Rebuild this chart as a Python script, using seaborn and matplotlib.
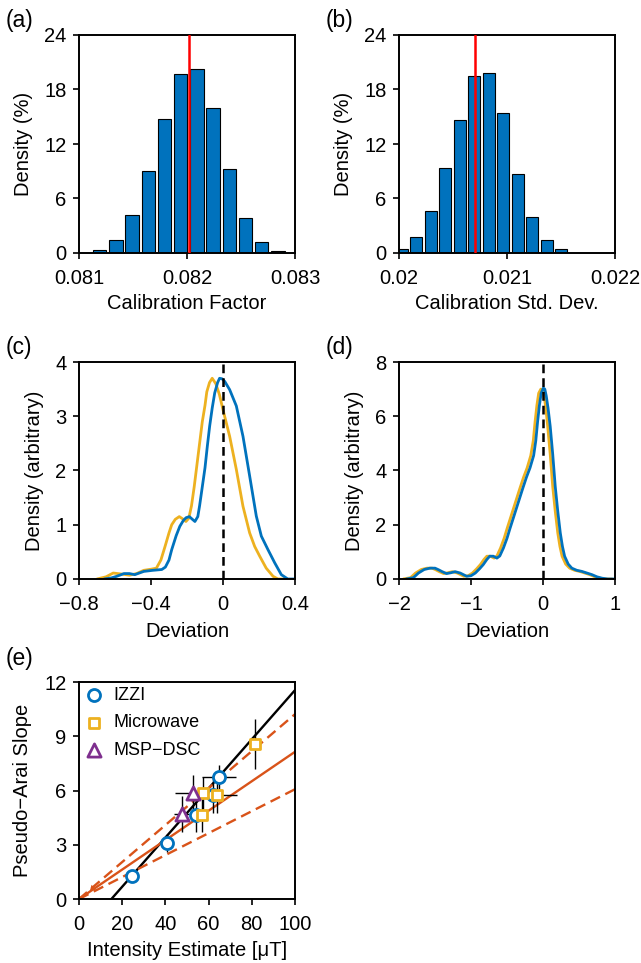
import numpy as np
import pandas as pd
import matplotlib
matplotlib.use("Agg")
import matplotlib.pyplot as plt
import seaborn as sns

# ---------------- data ----------------
# (a) calibration factor histogram (bin centres, % density)
a_centers = [0.081191, 0.081341, 0.081491, 0.081641, 0.081791, 0.081941,
             0.082091, 0.082241, 0.082391, 0.082541, 0.082691, 0.082841]
a_heights = [0.37, 1.4, 4.2, 9.05, 14.7, 19.7, 20.3, 16.0, 9.2, 3.8, 1.2, 0.25]
a_best = 0.08202

# (b) calibration std. dev. histogram
b_centers = [0.0200264, 0.0201605, 0.0202946, 0.0204287, 0.0205628, 0.0206969,
             0.0208310, 0.0209651, 0.0210992, 0.0212333, 0.0213674, 0.0215015]
b_heights = [0.45, 1.75, 4.6, 9.4, 14.65, 19.5, 19.8, 15.4, 8.75, 4.0, 1.4, 0.4]
b_best = 0.020704

# (c) deviation density curves
c_blue_x = [-0.66, -0.62, -0.59, -0.55, -0.52, -0.49, -0.44, -0.39, -0.34, -0.32, -0.30,
            -0.285, -0.26, -0.24, -0.22, -0.205, -0.187, -0.17, -0.156, -0.14, -0.13,
            -0.115, -0.10, -0.087, -0.074, -0.06, -0.046, -0.03, -0.019, -0.005, 0.01,
            0.037, 0.074, 0.111, 0.148, 0.185, 0.213, 0.25, 0.287, 0.324, 0.36, 0.40]
c_blue_y = [0.00, 0.02, 0.05, 0.10, 0.10, 0.08, 0.14, 0.16, 0.175, 0.22, 0.35,
            0.54, 0.80, 0.97, 1.08, 1.13, 1.15, 1.10, 1.06, 1.15, 1.35,
            1.70, 2.05, 2.45, 2.82, 3.15, 3.43, 3.62, 3.70, 3.69, 3.64,
            3.49, 3.19, 2.63, 1.90, 1.16, 0.79, 0.54, 0.30, 0.08, 0.00, 0.00]
c_orng_x = [-0.70, -0.65, -0.61, -0.56, -0.52, -0.48, -0.44, -0.40, -0.37, -0.345,
            -0.322, -0.30, -0.285, -0.265, -0.243, -0.225, -0.206, -0.19, -0.175, -0.16,
            -0.145, -0.13, -0.115, -0.10, -0.09, -0.075, -0.06, -0.04, -0.02, 0.00,
            0.037, 0.074, 0.111, 0.148, 0.176, 0.204, 0.24, 0.278, 0.305, 0.34]
c_orng_y = [0.00, 0.04, 0.11, 0.09, 0.07, 0.10, 0.16, 0.18, 0.20, 0.35,
            0.60, 0.85, 1.00, 1.10, 1.15, 1.11, 1.06, 1.12, 1.35, 1.70,
            2.10, 2.50, 2.90, 3.20, 3.45, 3.62, 3.70, 3.60, 3.40, 3.12,
            2.63, 2.02, 1.34, 0.85, 0.60, 0.42, 0.20, 0.05, 0.00, 0.00]

# (d) deviation density curves
d_blue_x = [-1.90, -1.80, -1.73, -1.65, -1.57, -1.50, -1.45, -1.40, -1.34, -1.28,
            -1.22, -1.15, -1.06, -1.00, -0.94, -0.88, -0.83, -0.78, -0.74, -0.69,
            -0.64, -0.60, -0.55, -0.50, -0.46, -0.40, -0.34, -0.28, -0.23, -0.18,
            -0.13, -0.10, -0.075, -0.05, -0.025, 0.005, 0.025, 0.045, 0.07, 0.10,
            0.135, 0.17, 0.205, 0.24, 0.27, 0.30, 0.35, 0.40, 0.47, 0.54,
            0.61, 0.68, 0.75, 0.82, 0.90, 1.00]
d_blue_y = [0.00, 0.05, 0.22, 0.35, 0.40, 0.40, 0.34, 0.27, 0.20, 0.23,
            0.27, 0.22, 0.10, 0.12, 0.22, 0.38, 0.53, 0.72, 0.84, 0.84,
            0.77, 0.85, 1.14, 1.50, 1.85, 2.35, 2.85, 3.35, 3.75, 4.10,
            4.55, 5.10, 5.80, 6.40, 6.85, 7.04, 7.00, 6.75, 6.30, 5.63,
            4.60, 3.41, 2.50, 1.70, 1.20, 0.84, 0.55, 0.40, 0.32, 0.28,
            0.22, 0.16, 0.08, 0.03, 0.00, 0.00]
d_orng_x = [-1.94, -1.84, -1.77, -1.69, -1.61, -1.54, -1.49, -1.44, -1.38, -1.32,
            -1.26, -1.19, -1.10, -1.04, -0.98, -0.92, -0.87, -0.82, -0.78, -0.73,
            -0.68, -0.64, -0.59, -0.54, -0.50, -0.44, -0.38, -0.32, -0.27, -0.22,
            -0.17, -0.135, -0.11, -0.085, -0.06, -0.03, -0.005, 0.015, 0.04, 0.065,
            0.10, 0.135, 0.17, 0.205, 0.235, 0.265, 0.315, 0.37, 0.44, 0.51,
            0.58, 0.65, 0.72, 0.79, 0.86, 0.96]
d_orng_y = [0.00, 0.05, 0.22, 0.35, 0.40, 0.40, 0.34, 0.27, 0.20, 0.23,
            0.27, 0.22, 0.10, 0.12, 0.22, 0.38, 0.53, 0.72, 0.84, 0.84,
            0.77, 0.85, 1.14, 1.50, 1.85, 2.35, 2.85, 3.35, 3.75, 4.10,
            4.55, 5.10, 5.80, 6.40, 6.85, 7.00, 6.98, 6.75, 6.30, 5.63,
            4.60, 3.41, 2.50, 1.70, 1.20, 0.84, 0.55, 0.40, 0.32, 0.28,
            0.22, 0.16, 0.08, 0.03, 0.00, 0.00]

# (e) pseudo-Arai slope vs intensity
izzi_x = [24.7, 40.9, 54.0, 62.2, 64.8]
izzi_y = [1.25, 3.10, 4.62, 5.75, 6.76]
izzi_xerr = [1.0, 1.0, 2.0, 3.0, 7.7]
izzi_yerr = [0.25, 0.5, 0.9, 1.0, 0.65]

micro_x = [56.8, 57.5, 63.8, 81.6]
micro_y = [4.63, 5.85, 5.75, 8.57]
micro_xerr = [2.0, 5.0, 9.5, 0.5]
micro_yerr = [0.9, 0.9, 1.0, 1.4]

msp_x = [47.5, 52.9]
msp_y = [4.69, 5.85]
msp_xerr = [3.5, 8.5]
msp_yerr = [1.0, 1.0]

black_fit_x = [15.0, 100.0]
black_fit_y = [0.0, 11.55]
fit_x = [0.0, 100.0]
fit_mid_y = [0.0, 8.14]
fit_hi_y = [0.0, 10.22]
fit_lo_y = [0.0, 6.07]
origin_mark_x = [5.8]
origin_mark_y = [0.6]

# ---------------- style ----------------
sns.set_theme(style="white")
plt.rcParams['font.family'] = ['Liberation Sans', 'DejaVu Sans']
plt.rcParams['axes.unicode_minus'] = True
plt.rcParams['text.color'] = 'black'
plt.rcParams['axes.labelcolor'] = 'black'
plt.rcParams['xtick.color'] = 'black'
plt.rcParams['ytick.color'] = 'black'

BLUE = '#0072BD'
YEL = '#EDB120'
PUR = '#7E2F8E'
ORA = '#D95319'
FS = 14.5
TFS = 14.5

fig = plt.figure(figsize=(6.41, 9.63), dpi=100)
W, H = 641.0, 963.0

def make_ax(l, t, r, b):
    return fig.add_axes([l / W, 1 - b / H, (r - l) / W, (b - t) / H])

def style(ax):
    for s in ax.spines.values():
        s.set_linewidth(1.4)
        s.set_color('black')
        s.set_visible(True)
    ax.tick_params(direction='out', length=4, width=1.2, labelsize=TFS,
                   colors='black', bottom=True, left=True)
    ax.tick_params(axis='x', pad=7.5)
    ax.tick_params(axis='y', pad=5)

ax_a = make_ax(79, 35, 295, 253)
ax_b = make_ax(399, 35, 615, 253)
ax_c = make_ax(79, 362, 295, 579)
ax_d = make_ax(399, 362, 615, 579)
ax_e = make_ax(79, 682, 295, 899)

# ---- (a), (b) ----
def hist(ax, centers, heights, best, xlim, xticks, xlabels, xlabel):
    c = np.asarray(centers, dtype=float)
    w = c[1] - c[0]
    edges = [float(v) for v in (c - w / 2)] + [float(c[-1] + w / 2)]
    df = pd.DataFrame({'x': c, 'h': heights})
    sns.histplot(data=df, x='x', weights='h', bins=edges, stat='count', shrink=0.83,
                 color=BLUE, edgecolor='black', linewidth=0.8, alpha=1.0, ax=ax)
    ax.axvline(best, color='#FF0000', lw=1.8, zorder=5)
    ax.set_xlim(*xlim)
    ax.set_ylim(0, 24)
    ax.set_yticks([0, 6, 12, 18, 24])
    ax.set_xticks(xticks)
    ax.set_xticklabels(xlabels)
    style(ax)
    ax.set_xlabel(xlabel, fontsize=FS, labelpad=4, color='black')
    ax.set_ylabel('Density (%)', fontsize=FS, labelpad=8, color='black')

hist(ax_a, a_centers, a_heights, a_best, (0.081, 0.083),
     [0.081, 0.082, 0.083], ['0.081', '0.082', '0.083'], 'Calibration Factor')
hist(ax_b, b_centers, b_heights, b_best, (0.020, 0.022),
     [0.020, 0.021, 0.022], ['0.02', '0.021', '0.022'], 'Calibration Std. Dev.')

# ---- (c), (d) ----
def dens(ax, bx, by, ox, oy, xlim, xticks, ylim, yticks):
    sns.lineplot(x=ox, y=oy, sort=False, estimator=None, color=YEL, lw=2.0, ax=ax)
    sns.lineplot(x=bx, y=by, sort=False, estimator=None, color=BLUE, lw=2.0, ax=ax)
    ax.axvline(0, color='black', lw=1.8, dashes=(3.5, 2.0), zorder=4)
    ax.set_xlim(*xlim)
    ax.set_ylim(*ylim)
    ax.set_xticks(xticks)
    ax.set_yticks(yticks)
    style(ax)
    ax.set_xlabel('Deviation', fontsize=FS, labelpad=6, color='black')
    ax.set_ylabel('Density (arbitrary)', fontsize=FS, labelpad=8, color='black')

dens(ax_c, c_blue_x, c_blue_y, c_orng_x, c_orng_y, (-0.8, 0.4),
     [-0.8, -0.4, 0, 0.4], (0, 4), [0, 1, 2, 3, 4])
ax_c.set_xticklabels(['\u22120.8', '\u22120.4', '0', '0.4'])
dens(ax_d, d_blue_x, d_blue_y, d_orng_x, d_orng_y, (-2, 1),
     [-2, -1, 0, 1], (0, 8), [0, 2, 4, 6, 8])

# ---- (e) ----
ax = ax_e
sns.lineplot(x=black_fit_x, y=black_fit_y, color='black', lw=1.7, ax=ax)
sns.lineplot(x=fit_x, y=fit_mid_y, color=ORA, lw=1.7, ax=ax)
sns.lineplot(x=fit_x, y=fit_hi_y, color=ORA, lw=1.7, ax=ax)
ax.lines[-1].set_dashes((4.5, 2.5))
sns.lineplot(x=fit_x, y=fit_lo_y, color=ORA, lw=1.7, ax=ax)
ax.lines[-1].set_dashes((4.5, 2.5))
sns.scatterplot(x=origin_mark_x, y=origin_mark_y, marker=(3, 0, 135), color=ORA,
                s=30, linewidth=0, ax=ax)

for xs, ys, xe, ye in [(izzi_x, izzi_y, izzi_xerr, izzi_yerr),
                       (micro_x, micro_y, micro_xerr, micro_yerr),
                       (msp_x, msp_y, msp_xerr, msp_yerr)]:
    ax.errorbar(xs, ys, xerr=xe, yerr=ye, fmt='none', ecolor='black',
                elinewidth=1.0, capsize=0, zorder=3)

sns.scatterplot(x=izzi_x, y=izzi_y, marker='o', s=75, facecolor='white',
                edgecolor=BLUE, linewidth=2.0, label='IZZI', ax=ax, zorder=6)
sns.scatterplot(x=micro_x, y=micro_y, marker='s', s=62, facecolor='white',
                edgecolor=YEL, linewidth=2.0, label='Microwave', ax=ax, zorder=6)
sns.scatterplot(x=msp_x, y=msp_y, marker='^', s=90, facecolor='white',
                edgecolor=PUR, linewidth=2.0, label='MSP\u2212DSC', ax=ax, zorder=6)

ax.set_xlim(0, 100)
ax.set_ylim(0, 12)
ax.set_xticks([0, 20, 40, 60, 80, 100])
ax.set_yticks([0, 3, 6, 9, 12])
style(ax)
ax.set_xlabel('Intensity Estimate [\u03bcT]', fontsize=FS, labelpad=5, color='black')
ax.set_ylabel('Pseudo\u2212Arai Slope', fontsize=FS, labelpad=9, color='black')
leg = ax.legend(loc='upper left', frameon=False, fontsize=13,
                handletextpad=0.45, labelspacing=0.6, borderaxespad=0.1,
                handlelength=1.2, borderpad=0.15)
for t in leg.get_texts():
    t.set_color('black')

# panel labels
for lab, x, y in [('(a)', 6, 20), ('(b)', 326, 20), ('(c)', 6, 347),
                  ('(d)', 326, 347), ('(e)', 6, 659)]:
    fig.text(x / W, 1 - y / H, lab, fontsize=16.5, ha='left', va='center', color='black')

fig.savefig('out.png', dpi=100)
